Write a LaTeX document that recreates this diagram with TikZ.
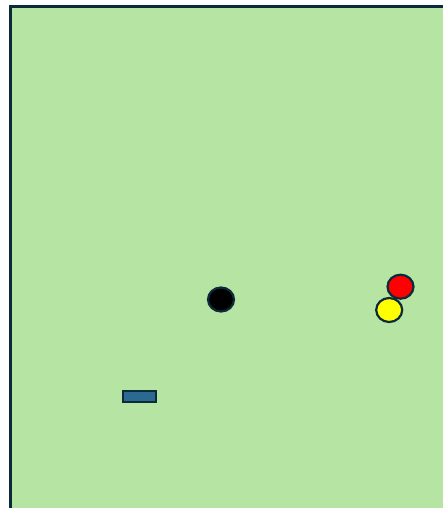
\documentclass[tikz,border=0pt]{standalone}
\usetikzlibrary{shapes.geometric}
\definecolor{fieldgreen}{HTML}{B5E4A3}
\definecolor{edgenavy}{HTML}{0D2A3A}
\definecolor{padblue}{HTML}{2A6A90}
\definecolor{ballred}{HTML}{FF0000}
\definecolor{ballyellow}{HTML}{FFFF00}
\tikzset{
  ball/.style={ellipse, draw=edgenavy, line width=2.2pt, inner sep=0pt, minimum width=26pt, minimum height=24pt},
  pad/.style={rectangle, draw=edgenavy, fill=padblue, line width=2pt, inner sep=0pt, minimum width=33pt, minimum height=10.5pt}
}
\begin{document}
\begin{tikzpicture}[x=1pt,y=-1pt]
\useasboundingbox (0,0) rectangle (443,508);
\fill[white] (0,0) rectangle (443,508);
\draw[draw=edgenavy, fill=fieldgreen, line width=3pt] (10.5,6.7) rectangle (470,540);
\node[ball, fill=black] (blackball) at (221,299.5) {};
\node[ball, fill=ballred] (redball) at (400.5,286.7) {};
\node[ball, fill=ballyellow] (yellowball) at (389.2,310) {};
\node[pad] (bluepad) at (139.2,396.3) {};
\end{tikzpicture}
\end{document}
